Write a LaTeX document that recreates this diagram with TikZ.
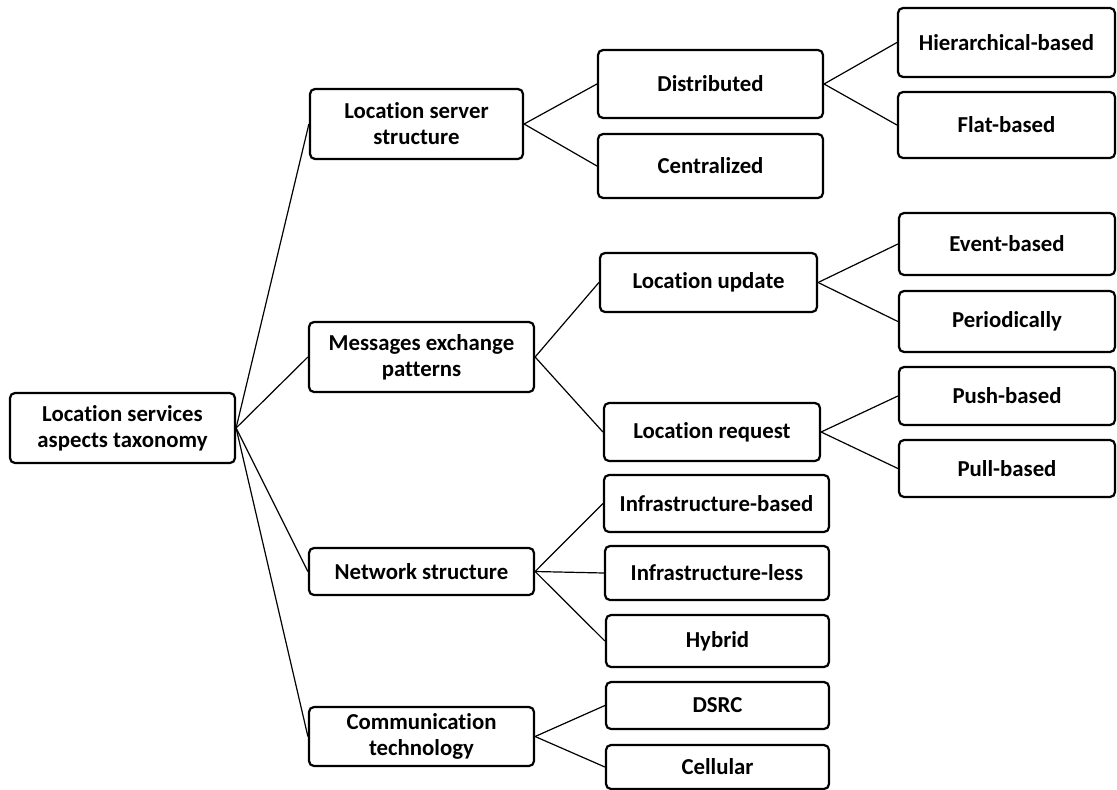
\documentclass[tikz,border=0pt]{standalone}
\usepackage{fontspec}
\setmainfont{Carlito}[Ligatures=NoCommon]

\tikzset{
  box/.style={draw, line width=2.2pt, rounded corners=5pt, align=center,
    inner sep=0pt, font=\bfseries\fontsize{22.8}{26}\selectfont},
  link/.style={line width=1.2pt}
}

\begin{document}
\begin{tikzpicture}[x=1pt, y=-1pt]
    \useasboundingbox (0,0) rectangle (1117,790);

    % Root
    \node[box, minimum width=225pt, minimum height=70pt] (root) at (122.5,428) {Location services\\aspects taxonomy};

    % First level
    \node[box, minimum width=213pt, minimum height=70pt] (server) at (416.5,124) {Location server\\structure};
    \node[box, minimum width=225pt, minimum height=70pt] (messages) at (421.5,357) {Messages exchange\\patterns};
    \node[box, minimum width=225pt, minimum height=47pt] (network) at (421.5,571.5) {Network structure};
    \node[box, minimum width=225pt, minimum height=59pt] (comm) at (421.5,736.5) {Communication\\technology};

    % Second level
    \node[box, minimum width=225pt, minimum height=68pt] (distributed) at (710.5,84) {Distributed};
    \node[box, minimum width=225pt, minimum height=64pt] (centralized) at (710.5,166) {Centralized};
    \node[box, minimum width=217pt, minimum height=59pt] (update) at (708.5,282.5) {Location update};
    \node[box, minimum width=216pt, minimum height=58pt] (request) at (712,432) {Location request};
    \node[box, minimum width=225pt, minimum height=57pt] (infrabased) at (716.5,503.5) {Infrastructure-based};
    \node[box, minimum width=224pt, minimum height=54pt] (infraless) at (717,573) {Infrastructure-less};
    \node[box, minimum width=223pt, minimum height=52pt] (hybrid) at (717.5,641) {Hybrid};
    \node[box, minimum width=223pt, minimum height=47pt] (dsrc) at (717.5,705.5) {DSRC};
    \node[box, minimum width=223pt, minimum height=44pt] (cellular) at (717.5,767) {Cellular};

    % Third level
    \node[box, minimum width=217pt, minimum height=69pt] (hierarchical) at (1006.5,42.5) {Hierarchical-based};
    \node[box, minimum width=217pt, minimum height=66pt] (flat) at (1006.5,125) {Flat-based};
    \node[box, minimum width=216pt, minimum height=62pt] (event) at (1007,244) {Event-based};
    \node[box, minimum width=216pt, minimum height=61pt] (periodic) at (1007,321.5) {Periodically};
    \node[box, minimum width=216pt, minimum height=58pt] (push) at (1007,396) {Push-based};
    \node[box, minimum width=216pt, minimum height=57pt] (pull) at (1007,468.5) {Pull-based};

    % Links
    \foreach \a in {server, messages, network, comm}
        \draw[link] (root.east) -- (\a.west);
    \foreach \a in {distributed, centralized}
        \draw[link] (server.east) -- (\a.west);
    \foreach \a in {update, request}
        \draw[link] (messages.east) -- (\a.west);
    \foreach \a in {infrabased, infraless, hybrid}
        \draw[link] (network.east) -- (\a.west);
    \foreach \a in {dsrc, cellular}
        \draw[link] (comm.east) -- (\a.west);
    \foreach \a in {hierarchical, flat}
        \draw[link] (distributed.east) -- (\a.west);
    \foreach \a in {event, periodic}
        \draw[link] (update.east) -- (\a.west);
    \foreach \a in {push, pull}
        \draw[link] (request.east) -- (\a.west);
\end{tikzpicture}
\end{document}
